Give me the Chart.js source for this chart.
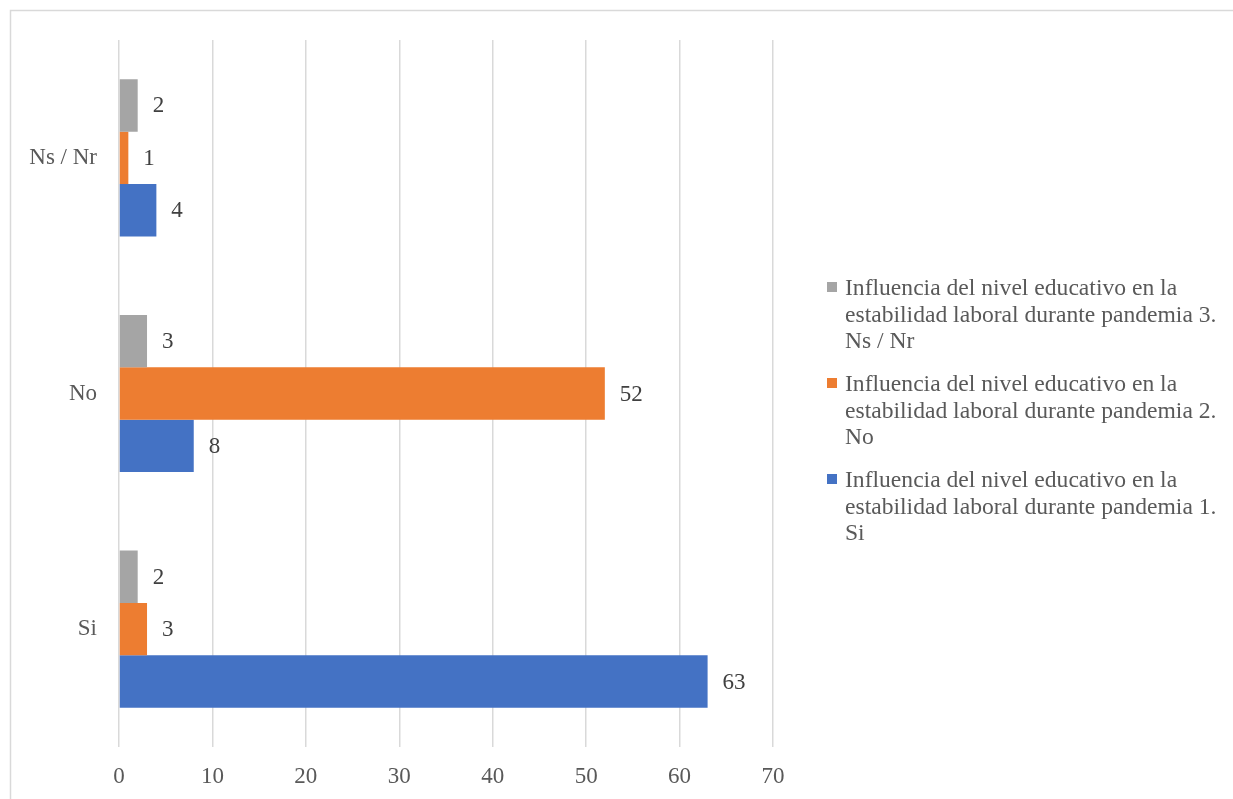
<!DOCTYPE html>
<html>
<head>
<meta charset="utf-8">
<script src="https://cdn.jsdelivr.net/npm/chart.js@4/dist/chart.umd.min.js"></script>
<style>
html,body{margin:0;padding:0;background:#fff;}
#wrap{width:1233px;height:799px;position:relative;}
</style>
</head>
<body>
<div id="wrap"><canvas id="c" width="1233" height="799"></canvas></div>
<script>
const categories = ['Ns / Nr', 'No', 'Si'];
const seriesNames = [
  'Influencia del nivel educativo en la estabilidad laboral durante pandemia 3. Ns / Nr',
  'Influencia del nivel educativo en la estabilidad laboral durante pandemia 2. No',
  'Influencia del nivel educativo en la estabilidad laboral durante pandemia 1. Si'
];
const nsnrValues = [2, 3, 2];
const noValues = [1, 52, 3];
const siValues = [4, 8, 63];
const xTicks = [0, 10, 20, 30, 40, 50, 60, 70];
const colors = ['#A5A5A5', '#ED7D31', '#4472C4'];

const FONT = '"Liberation Serif", "Times New Roman", serif';

const frame = {
  id: 'frame',
  beforeDraw(chart) {
    const ctx = chart.ctx;
    ctx.save();
    ctx.strokeStyle = '#d9d9d9';
    ctx.lineWidth = 1.5;
    ctx.beginPath();
    ctx.moveTo(10.5, 799);
    ctx.lineTo(10.5, 10.5);
    ctx.lineTo(1233, 10.5);
    ctx.stroke();
    ctx.restore();
  }
};

const valueLabels = {
  id: 'valueLabels',
  afterDatasetsDraw(chart) {
    const ctx = chart.ctx;
    ctx.save();
    ctx.font = '23px ' + FONT;
    ctx.fillStyle = '#404040';
    ctx.textAlign = 'left';
    ctx.textBaseline = 'middle';
    chart.data.datasets.forEach((ds, i) => {
      const meta = chart.getDatasetMeta(i);
      meta.data.forEach((el, j) => {
        ctx.fillText(String(ds.data[j]), el.x + 15, el.y + 1);
      });
    });
    ctx.restore();
  }
};

const sideLegend = {
  id: 'sideLegend',
  afterDraw(chart) {
    const ctx = chart.ctx;
    ctx.save();
    ctx.font = '23.6px ' + FONT;
    ctx.textBaseline = 'alphabetic';
    ctx.textAlign = 'left';
    const maxW = 380, lineH = 26.5, gap = 16.5;
    const x0 = 827, textX = 845;
    let y = 295;
    chart.data.datasets.forEach((ds) => {
      const words = ds.label.split(' ');
      const lines = [];
      let cur = '';
      words.forEach(w => {
        const t = cur ? cur + ' ' + w : w;
        if (ctx.measureText(t).width > maxW && cur) { lines.push(cur); cur = w; }
        else cur = t;
      });
      if (cur) lines.push(cur);
      ctx.fillStyle = ds.backgroundColor;
      ctx.fillRect(x0, y - 13, 10, 10);
      ctx.fillStyle = '#595959';
      lines.forEach((ln, k) => ctx.fillText(ln, textX, y + k * lineH));
      y += lines.length * lineH + gap;
    });
    ctx.restore();
  }
};

new Chart(document.getElementById('c'), {
  type: 'bar',
  data: {
    labels: categories,
    datasets: [
      { label: seriesNames[0], data: nsnrValues, backgroundColor: colors[0] },
      { label: seriesNames[1], data: noValues, backgroundColor: colors[1] },
      { label: seriesNames[2], data: siValues, backgroundColor: colors[2] }
    ]
  },
  options: {
    indexAxis: 'y',
    responsive: false,
    animation: false,
    layout: { padding: { top: 40, right: 460, left: 0, bottom: 0 } },
    datasets: { bar: { categoryPercentage: 0.667, barPercentage: 1.0 } },
    plugins: {
      legend: { display: false },
      tooltip: { enabled: false }
    },
    scales: {
      x: {
        min: 0, max: 70,
        afterBuildTicks(scale) { scale.ticks = xTicks.map(v => ({ value: v })); },
        afterFit(scale) { scale.height = 52; },
        grid: { color: '#d9d9d9', lineWidth: 1.5, drawTicks: false },
        border: { display: false },
        ticks: { color: '#595959', font: { family: FONT, size: 23 }, padding: 16 }
      },
      y: {
        afterFit(scale) { scale.width = 119; },
        grid: { display: false, drawTicks: false },
        border: { display: false },
        ticks: { color: '#595959', font: { family: FONT, size: 23 }, padding: 22 }
      }
    }
  },
  plugins: [frame, valueLabels, sideLegend]
});
</script>
</body>
</html>
